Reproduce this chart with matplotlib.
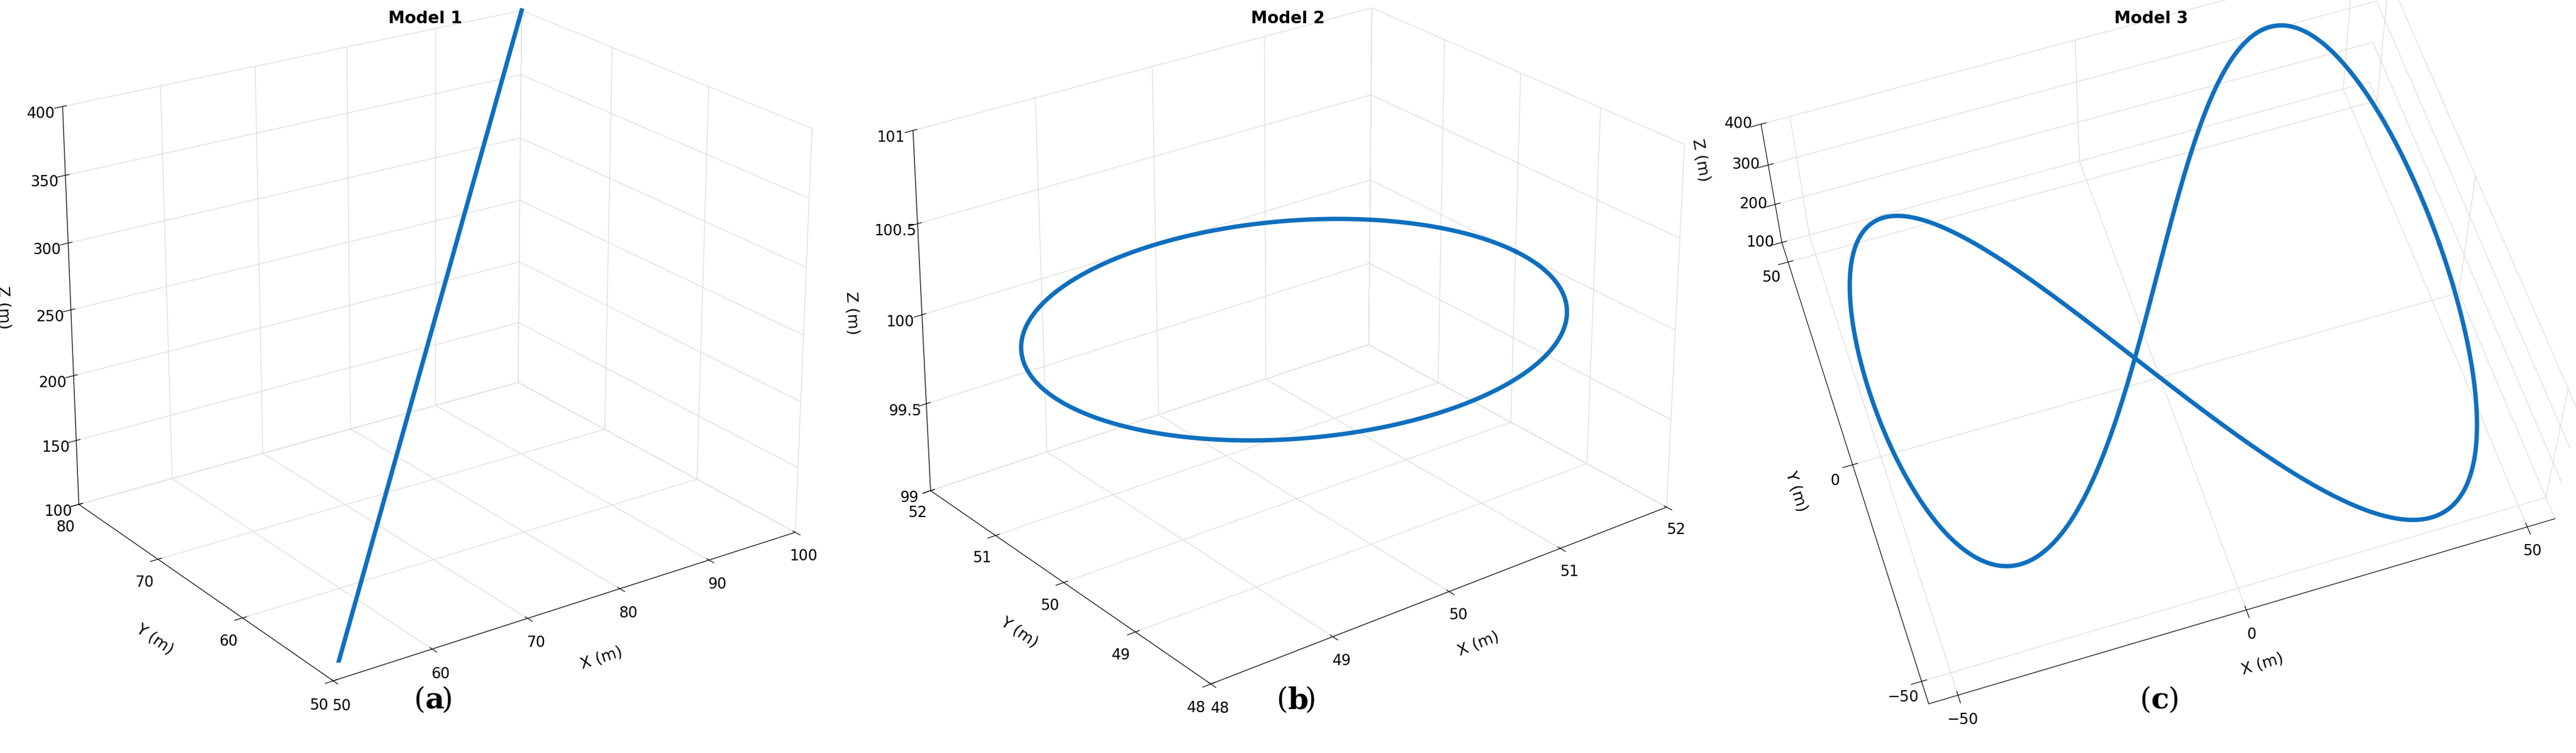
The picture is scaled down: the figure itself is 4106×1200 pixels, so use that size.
import numpy as np
import matplotlib
matplotlib.use("Agg")
import matplotlib.pyplot as plt

# Model 1: straight line
m1_x = [50, 100]
m1_y = [50, 80]
m1_z = [100, 400]
# Model 2: circle
m2_center = (50, 50, 100)
m2_radius = 2
# Model 3: figure-eight
m3_amp_x = 50
m3_amp_y = 50
m3_z_mid = 250
m3_z_amp = 150

col = "#0f6fbf"
fig = plt.figure(figsize=(41.06, 12), dpi=100)

def style(ax):
    for a in (ax.xaxis, ax.yaxis, ax.zaxis):
        a.set_pane_color((1, 1, 1, 0))
        a._axinfo["grid"]["color"] = (0.88, 0.88, 0.88, 1)
        a._axinfo["grid"]["linewidth"] = 1.0
    ax.tick_params(labelsize=17)
    ax.set_xlabel("X (m)", fontsize=18, labelpad=16)
    ax.set_ylabel("Y (m)", fontsize=18, labelpad=16)
    ax.set_zlabel("Z (m)", fontsize=18, labelpad=16)

ax1 = fig.add_axes([0.0, 0.12, 0.33, 0.88], projection="3d")
ax1.plot(m1_x, m1_y, m1_z, color=col, lw=5)
ax1.set_xlim(50, 100); ax1.set_ylim(50, 80); ax1.set_zlim(100, 400)
ax1.set_xticks([50, 60, 70, 80, 90, 100]); ax1.set_yticks([50, 60, 70, 80])
ax1.set_zticks(range(100, 401, 50))
ax1.view_init(elev=22, azim=-125)
ax1.set_box_aspect((1.3, 1.1, 1.0), zoom=1.25)
style(ax1)

ax2 = fig.add_axes([0.335, 0.12, 0.33, 0.88], projection="3d")
th = np.linspace(0, 2 * np.pi, 400)
ax2.plot(m2_center[0] + m2_radius * np.cos(th), m2_center[1] + m2_radius * np.sin(th),
         np.full_like(th, m2_center[2]), color=col, lw=5)
ax2.set_xlim(48, 52); ax2.set_ylim(48, 52); ax2.set_zlim(99, 101)
ax2.set_xticks([48, 49, 50, 51, 52]); ax2.set_yticks([48, 49, 50, 51, 52])
ax2.set_zticks([99, 99.5, 100, 100.5, 101])
ax2.set_zticklabels(["99", "99.5", "100", "100.5", "101"])
ax2.view_init(elev=25, azim=-127.5)
ax2.set_box_aspect((1.3, 1.1, 0.9), zoom=1.25)
style(ax2)

ax3 = fig.add_axes([0.67, 0.12, 0.33, 0.88], projection="3d")
t = np.linspace(0, 2 * np.pi, 400)
ax3.plot(m3_amp_x * np.cos(t), m3_amp_y * np.sin(2 * t),
         m3_z_mid + m3_z_amp * np.sin(t), color=col, lw=5)
ax3.set_xlim(-55, 55); ax3.set_ylim(-55, 55); ax3.set_zlim(100, 400)
ax3.set_xticks([-50, 0, 50]); ax3.set_yticks([-50, 0, 50])
ax3.set_zticks([100, 200, 300, 400])
ax3.view_init(elev=60, azim=-108)
ax3.set_box_aspect((1.3, 1.1, 0.45), zoom=1.3)
style(ax3)

for x, title in [(0.165, "Model 1"), (0.5, "Model 2"), (0.835, "Model 3")]:
    fig.text(x, 0.975, title, fontsize=19, fontweight="bold", ha="center", va="center")

for x, lab in [(0.165, "a"), (0.5, "b"), (0.835, "c")]:
    fig.text(x, 0.07, "(", fontsize=34, family="DejaVu Serif", ha="right", va="center")
    fig.text(x, 0.07, lab, fontsize=34, family="DejaVu Serif", fontweight="bold", ha="left", va="center")
    fig.text(x + 0.0065, 0.07, ")", fontsize=34, family="DejaVu Serif", ha="left", va="center")

fig.savefig("out.png", dpi=100, facecolor="white")
